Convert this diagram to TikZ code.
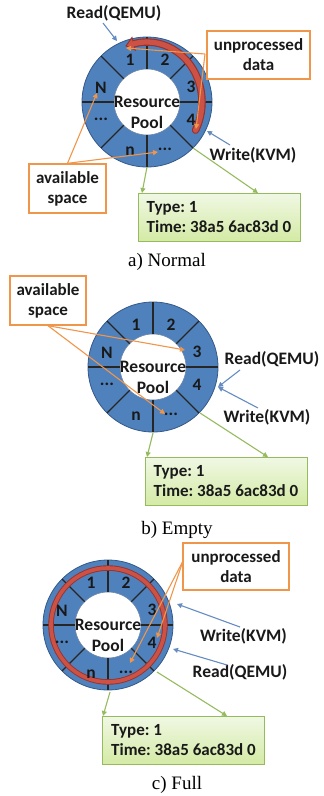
\documentclass[tikz,border=0pt]{standalone}
\usepackage{fontspec}
\setmainfont{Carlito}
\newfontfamily\capfont{Liberation Serif}
\usetikzlibrary{arrows.meta}
\frenchspacing
\definecolor{ringblue}{RGB}{79,129,189}
\definecolor{ringedge}{RGB}{52,88,135}
\definecolor{orng}{RGB}{240,150,75}
\definecolor{grn}{RGB}{150,187,95}
\definecolor{grntop}{RGB}{240,248,228}
\definecolor{grnbot}{RGB}{212,234,165}
\definecolor{redfill}{RGB}{205,82,70}
\definecolor{reddark}{RGB}{150,50,45}
\definecolor{arrblue}{RGB}{100,140,195}
\tikzset{
  lbl/.style={font=\fontsize{17.5}{19}\selectfont\bfseries, inner sep=0pt, text=black!90},
  divline/.style={line width=1.4pt, black!85},
  obox/.style={draw=orng, line width=1.4pt, fill=white, align=center,
    font=\fontsize{17}{20}\selectfont\bfseries, inner sep=0pt, text=black!90},
  oarr/.style={orng, line width=1.1pt, -{Triangle[length=5pt,width=5pt]}},
  barr/.style={arrblue, line width=1.1pt, -{Triangle[length=5pt,width=5pt]}},
  garr/.style={grn, line width=1.1pt, -{Triangle[length=5pt,width=5pt]}},
  gbox/.style={draw=grn, line width=1pt, top color=grntop, bottom color=grnbot,
    minimum width=162pt, minimum height=48pt, align=left,
    inner sep=0pt, font=\fontsize{17}{20}\selectfont\bfseries, text=black!90},
  captxt/.style={font=\capfont\fontsize{19}{22}\selectfont, inner sep=0pt},
}
\newcommand\ringpool[3]{%
  \begin{scope}[shift={(#2,#3)}]
    \fill[ringblue, even odd rule] (0,0) circle (65pt) (0,0) circle (33pt);
    \draw[ringedge, line width=0.8pt] (0,0) circle (65pt);
    \draw[ringedge!70, line width=0.6pt] (0,0) circle (33pt);
    \foreach \a in {0,45,...,315} \draw[divline] (\a:33pt) -- (\a:65pt);
    \coordinate (#1c) at (0,0);
  \end{scope}}
\newcommand\ringlabels[3]{%
  \begin{scope}[shift={(#2,#3)}]
    \node[lbl] (#1l1) at (-17,-42) {1};
    \node[lbl] (#1l2) at (18,-42) {2};
    \node[lbl] (#1l3) at (44,-15) {3};
    \node[lbl] (#1l4) at (44,18) {4};
    \node[lbl] (#1lN) at (-46,-14) {N};
    \node[lbl] (#1ld) at (-46,17) {...};
    \node[lbl] (#1ln) at (-17,49) {n};
    \node[lbl] (#1le) at (18,47) {...};
    \node[lbl] (#1res) at (0,0) {Resource};
    \node[lbl] (#1pool) at (0,20) {Pool};
  \end{scope}}
\begin{document}
\begin{tikzpicture}[x=1pt,y=-1pt]
\useasboundingbox (0,0) rectangle (324,796);
% ---------------- a) Normal
\ringpool{a}{147}{102}
\begin{scope}[shift={(147,102)}]
  \draw[reddark, line width=7.5pt, line cap=round] (-28:55pt and 60pt) arc[start angle=-28, end angle=104, x radius=55pt, y radius=60pt];
  \filldraw[fill=redfill, draw=reddark, line width=0.9pt] (-21,-56.1) -- (-15,-64.5) -- (-11.6,-51.9) -- cycle;
  \draw[redfill, line width=5.2pt, line cap=round] (-28:55pt and 60pt) arc[start angle=-28, end angle=104, x radius=55pt, y radius=60pt];
\end{scope}
\ringlabels{a}{147}{102}
\node[lbl] (aread) at (114,13) {Read(QEMU)};
\node[lbl] (awrite) at (253,155) {Write(KVM)};
\node[obox, minimum width=103pt, minimum height=48pt] (aunp) at (258.5,55) {unprocessed\\data};
\node[obox, minimum width=77pt, minimum height=49pt] (aav) at (67.5,188.5) {available\\space};
\node[gbox] (agreen) at (219,217) {Type: 1\\Time: 38a5 6ac83d 0};
\node[captxt] (acap) at (167,262) {a) Normal};
\coordinate (aRs) at (103,23); \coordinate (aRe) at (117,41);
\coordinate (aWs) at (230,145); \coordinate (aWe) at (207,131);
\coordinate (aU) at (205,54);
\coordinate (aU1) at (126,48); \coordinate (aU4) at (196,129);
\coordinate (aA1) at (97,93); \coordinate (aA2) at (158,152);
\coordinate (aG1s) at (147,167); \coordinate (aG1e) at (142,193);
\coordinate (aG2s) at (193,148); \coordinate (aG2e) at (258,193);
\draw[barr] (aRs) -- (aRe);
\draw[barr] (aWs) -- (aWe);
\draw[oarr] (aU) -- (aU1);
\draw[oarr] (aU) -- (aU4);
\draw[oarr] (aav.north) -- (aA1);
\draw[oarr] (aav.north) -- (aA2);
\draw[garr] (aG1s) -- (aG1e);
\draw[garr] (aG2s) -- (aG2e);
% ---------------- b) Empty
\ringpool{b}{153}{367}
\ringlabels{b}{153}{367}
\node[lbl] (bread) at (272,359) {Read(QEMU)};
\node[lbl] (bwrite) at (267,417) {Write(KVM)};
\node[obox, minimum width=76pt, minimum height=49pt] (bav) at (48,300.5) {available\\space};
\node[gbox] (bgreen) at (226,481) {Type: 1\\Time: 38a5 6ac83d 0};
\node[captxt] (bcap) at (177,530) {b) Empty};
\coordinate (bRs) at (240,370); \coordinate (bWs) at (258,408); \coordinate (bRW) at (218,387);
\coordinate (bA1) at (185,350); \coordinate (bA2) at (165,414);
\coordinate (bG1s) at (153,433); \coordinate (bG1e) at (147,457);
\coordinate (bG2s) at (200,413); \coordinate (bG2e) at (268,457);
\draw[barr] (bRs) -- (bRW);
\draw[barr] (bWs) -- (bRW);
\draw[oarr] (bav.south) -- (bA1);
\draw[oarr] (bav.south) -- (bA2);
\draw[garr] (bG1s) -- (bG1e);
\draw[garr] (bG2s) -- (bG2e);
% ---------------- c) Full
\ringpool{c}{108}{625}
\begin{scope}[shift={(108,625)}]
  \draw[reddark, line width=5.5pt] (0,0) circle (57pt);
  \draw[redfill, line width=3.7pt] (0,0) circle (57pt);
\end{scope}
\ringlabels{c}{108}{625}
\node[lbl] (cwrite) at (243.5,636) {Write(KVM)};
\node[lbl] (cread) at (240,672) {Read(QEMU)};
\node[obox, minimum width=106pt, minimum height=47pt] (cunp) at (236,566.5) {unprocessed\\data};
\node[gbox] (cgreen) at (183.5,740) {Type: 1\\Time: 38a5 6ac83d 0};
\node[captxt] (ccap) at (177,785) {c) Full};
\coordinate (cWs) at (240,627); \coordinate (cWe) at (177,604);
\coordinate (cRs) at (227,665); \coordinate (cRe) at (173,649);
\coordinate (cU) at (183,561);
\coordinate (cU4) at (157,638); \coordinate (cUe) at (130,663);
\coordinate (cG1s) at (110,692); \coordinate (cG1e) at (103,716);
\coordinate (cG2s) at (157,672); \coordinate (cG2e) at (227,716);
\draw[barr] (cWs) -- (cWe);
\draw[barr] (cRs) -- (cRe);
\draw[oarr] (cU) -- (cU4);
\draw[oarr] (cU) -- (cUe);
\draw[garr] (cG1s) -- (cG1e);
\draw[garr] (cG2s) -- (cG2e);
\end{tikzpicture}
\end{document}
